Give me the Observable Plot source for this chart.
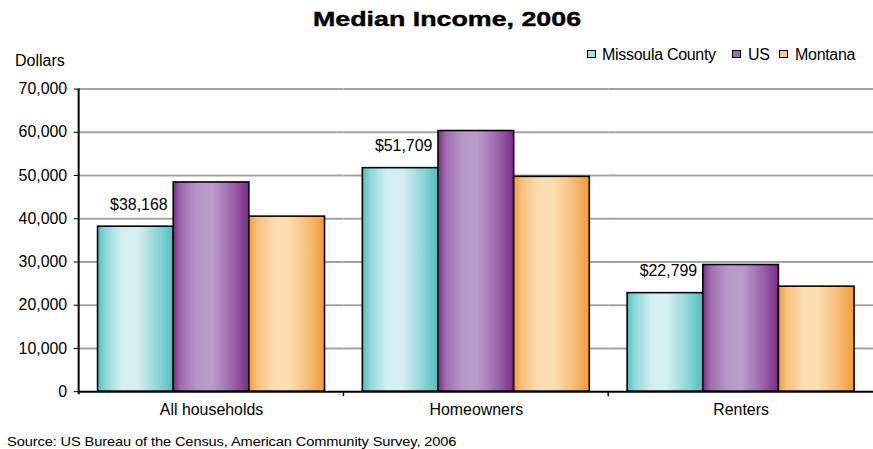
<!DOCTYPE html>
<html>
<head>
<meta charset="utf-8">
<script src="https://cdn.jsdelivr.net/npm/d3@7"></script>
<script src="https://cdn.jsdelivr.net/npm/@observablehq/plot@0.6"></script>
<style>
  body { margin: 0; background: #fff; font-family: "Liberation Sans", Arial, sans-serif; }
  #wrap { position: relative; width: 873px; height: 449px; overflow: hidden; background: #fff; }
  #chart { position: absolute; left: 0; top: 0; }
  .abs { position: absolute; white-space: nowrap; color: #000; line-height: 1; }
  #title { left: 447px; top: 9px; font-size: 20px; font-weight: bold; -webkit-text-stroke: 0.4px #000; transform-origin: center; transform: translateX(-50%) scaleX(1.34); }
  #ylab { left: 15px; top: 53px; font-size: 16px; }
  .lg { font-size: 16px; top: 47px; letter-spacing: -0.3px; }
  .sw { position: absolute; top: 50px; width: 7px; height: 6px; border: 1.3px solid #000; }
  #caption { left: 7px; top: 435px; font-size: 13px; transform-origin: left center; transform: scaleX(1.125); letter-spacing: -0.1px; }
</style>
</head>
<body>
<div id="wrap">
  <div id="chart"></div>
  <div class="abs" id="title">Median Income, 2006</div>
  <div class="abs" id="ylab">Dollars</div>
  <div id="legend"></div>
  <div class="abs" id="caption">Source: US Bureau of the Census, American Community Survey, 2006</div>
</div>
<script>
// ---- data ----
const categories = ["All households", "Homeowners", "Renters"];
const series = ["Missoula County", "US", "Montana"];
const missoula = [38168, 51709, 22799];
const us = [48400, 60300, 29300];
const montana = [40500, 49700, 24300];
const yTicks = [0, 10000, 20000, 30000, 40000, 50000, 60000, 70000];

// ---- styles ----
const gradIds = {"Missoula County": "gCyan", "US": "gPurple", "Montana": "gOrange"};
const gradStops = {
  gCyan:   ["#4dbfbf", "#8ed6d8", "#d3eef2", "#d6eff3", "#8fd5d7", "#4dbfbf"],
  gPurple: ["#7a2a86", "#9e6cae", "#b898c8", "#ba9cca", "#9a62aa", "#7a2a86"],
  gOrange: ["#f29a38", "#f7bf7c", "#fbdcb0", "#fcdeb3", "#f6bb74", "#f29a38"]
};
const stopOffsets = [0, 0.1, 0.32, 0.52, 0.8, 1];
const swatch = {"Missoula County": "#a3dfe0", "US": "#a06cb0", "Montana": "#f8c890"};

const valuesBySeries = {"Missoula County": missoula, "US": us, "Montana": montana};
const data = [];
categories.forEach((c, i) => series.forEach(s => data.push({category: c, series: s, value: valuesBySeries[s][i]})));

const fmt = d3.format(",");

const chart = Plot.plot({
  width: 877,
  height: 449,
  marginTop: 89,
  marginBottom: 56,
  marginLeft: 79,
  marginRight: 0,
  style: {fontFamily: "'Liberation Sans', Arial, sans-serif", fontSize: "16px", color: "#000", background: "#fff", overflow: "visible"},
  fx: {domain: categories, padding: 0, label: null},
  x: {domain: series, axis: null, paddingInner: 0, paddingOuter: 0.24},
  y: {domain: [0, 70000], label: null},
  color: {type: "identity"},
  marks: [
    Plot.gridY(yTicks.slice(1), {stroke: "#a4a4a4", strokeOpacity: 1, strokeWidth: 2}),
    Plot.barY(data, {fx: "category", x: "series", y: "value", fill: d => `url(#${gradIds[d.series]})`, stroke: "#000", strokeWidth: 1.6}),
    Plot.text(data.filter(d => d.series === series[0]), {fx: "category", x: "series", y: "value", text: d => "$" + fmt(d.value), dy: -22, dx: 3, fontSize: 16, fill: "#000"}),
    Plot.ruleY([0], {stroke: "#000", strokeWidth: 2}),
    Plot.axisY({ticks: yTicks, tickFormat: fmt, tickSize: 5, tickPadding: 7, fontSize: 16, label: null, stroke: "#000"}),
    Plot.axisFx({anchor: "bottom", tickSize: 0, tickPadding: 12, fontSize: 16, label: null})
  ]
});

document.getElementById("chart").appendChild(chart);

// gradients + axis lines derived from the Plot scales
const svg = d3.select(chart.tagName.toLowerCase() === "svg" ? chart : chart.querySelector("svg"));
const defs = svg.insert("defs", ":first-child");
Object.entries(gradStops).forEach(([id, cols]) => {
  const g = defs.append("linearGradient").attr("id", id).attr("x1", "0").attr("x2", "1").attr("y1", "0").attr("y2", "0");
  cols.forEach((c, i) => g.append("stop").attr("offset", stopOffsets[i]).attr("stop-color", c));
});
const fxs = chart.scale("fx");
const ys = chart.scale("y");
const y0 = ys.apply(0), yTop = ys.apply(yTicks[yTicks.length - 1]);
const left = fxs.apply(categories[0]);
svg.append("line").attr("x1", left).attr("x2", left).attr("y1", yTop).attr("y2", y0 + 3)
  .attr("stroke", "#000").attr("stroke-width", 2);
categories.slice(1).forEach(c => {
  const x = fxs.apply(c);
  svg.append("line").attr("x1", x).attr("x2", x).attr("y1", y0).attr("y2", y0 + 5)
    .attr("stroke", "#000").attr("stroke-width", 1.5);
});

// legend
const legendPos = [[587, 602], [732, 748], [779, 795]];
const legend = document.getElementById("legend");
series.forEach((s, i) => {
  const sw = document.createElement("div");
  sw.className = "sw";
  sw.style.left = legendPos[i][0] + "px";
  sw.style.background = swatch[s];
  legend.appendChild(sw);
  const t = document.createElement("div");
  t.className = "abs lg";
  t.style.left = legendPos[i][1] + "px";
  t.textContent = s;
  legend.appendChild(t);
});
</script>
</body>
</html>
